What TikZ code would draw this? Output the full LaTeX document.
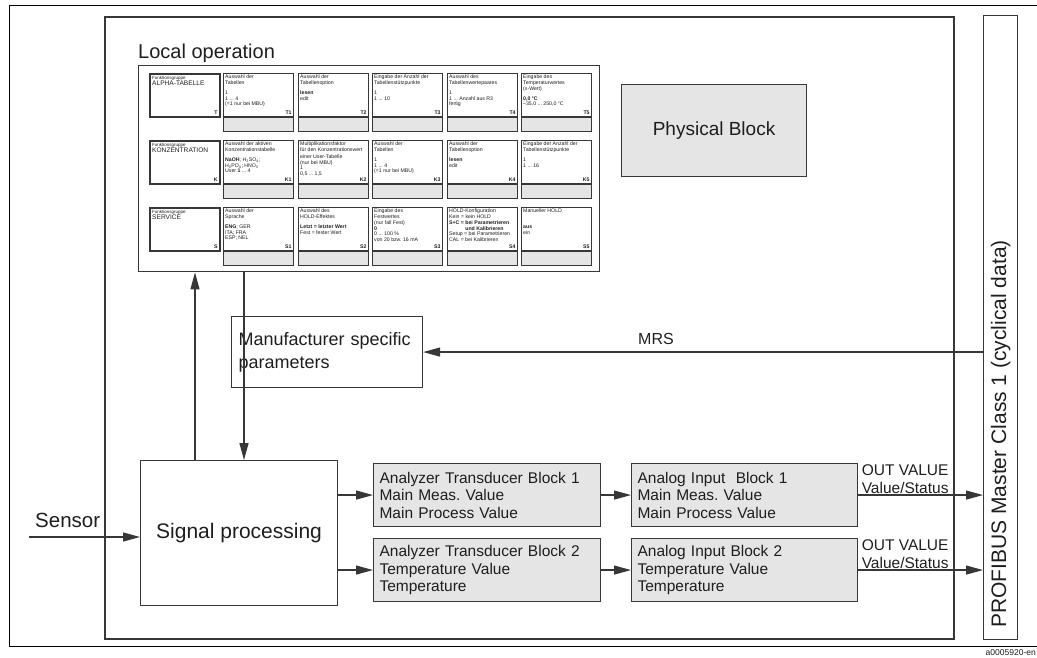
\documentclass[tikz,border=0pt]{standalone}
\usepackage{fontspec}
\setmainfont{Liberation Sans}
\frenchspacing
\usetikzlibrary{arrows.meta,positioning}

\definecolor{blockgray}{RGB}{229,229,229}
\definecolor{linegray}{RGB}{55,55,55}
\definecolor{textdark}{RGB}{30,30,30}

\tikzset{
  arr/.style={draw=linegray, line width=1.2pt, -{Triangle[length=17pt,width=9pt]}},
  block/.style={draw=linegray, line width=1.1pt, fill=blockgray, anchor=north west, inner sep=0pt},
  blocktext/.style={block, minimum width=227pt, minimum height=63pt, text width=215pt, inner xsep=6pt, align=left, font=\fontsize{15.5}{17.5}\selectfont},
  cell/.style={draw=linegray, line width=.8pt, fill=white, anchor=north west, minimum width=70pt, minimum height=43pt, inner sep=0pt},
  cellbar/.style={cell, fill=blockgray, minimum height=14pt},
  group/.style={cell, line width=1.8pt},
  celltext/.style={anchor=north west, inner sep=2pt, align=left, font=\fontsize{5.2}{5.7}\selectfont},
  celltag/.style={anchor=south east, inner sep=2pt, font=\fontsize{5.2}{5.7}\selectfont\bfseries},
  outlabel/.style={anchor=south west, inner sep=1.5pt, align=left, font=\fontsize{15.5}{17.5}\selectfont},
}

% one parameter cell: name, position, text
\newcommand{\paramcell}[3]{%
  \node[cell] (#1) at (#2) {};
  \node[cellbar] (#1bar) at (#1.south west) {};
  \node[celltext] at (#1.north west) {#3};
  \node[celltag] at (#1.south east) {#1};
}

\begin{document}
\begin{tikzpicture}[x=1pt, y=-1pt, every node/.style={text=textdark}]
  \useasboundingbox (0,0) rectangle (1037,657);

  % frames
  \draw[line width=.9pt] (1037,5) -- (9,5) -- (9,646) -- (1037,646);
  \draw[linegray, line width=1.6pt] (105,17) rectangle (954,639);

  \node[draw=linegray, line width=1.2pt, anchor=north west, minimum width=34pt, minimum height=624pt, inner sep=0pt] (prof) at (983,15) {};
  \node[rotate=90, anchor=west, font=\fontsize{21}{25}\selectfont] at ([yshift=9pt]prof.south) {PROFIBUS Master Class 1 (cyclical data)};

  % local operation
  \node[anchor=base west, inner sep=0pt, font=\fontsize{20}{24}\selectfont] (localop) at (138,58) {Local operation};
  \node[draw=linegray, line width=1.4pt, anchor=north west, minimum width=461pt, minimum height=206pt, inner sep=0pt] (panel) at (138,65) {};

  \begin{scope}
    \node[group] (T) at (149,73) {};
    \node[celltext, inner sep=3pt] at (T.north west) {{\fontsize{4.5}{5}\selectfont Funktionsgruppe}\\{\fontsize{6.6}{7.5}\selectfont ALPHA-TABELLE}};
    \node[celltag, inner sep=3pt] at (T.south east) {T};
    \node[group] (K) at (149,140) {};
    \node[celltext, inner sep=3pt] at (K.north west) {{\fontsize{4.5}{5}\selectfont Funktionsgruppe}\\{\fontsize{6.6}{7.5}\selectfont KONZENTRATION}};
    \node[celltag, inner sep=3pt] at (K.south east) {K};
    \node[group] (S) at (149,207) {};
    \node[celltext, inner sep=3pt] at (S.north west) {{\fontsize{4.5}{5}\selectfont Funktionsgruppe}\\{\fontsize{6.6}{7.5}\selectfont SERVICE}};
    \node[celltag, inner sep=3pt] at (S.south east) {S};

    \paramcell{T1}{223,73}{Auswahl der\\Tabellen\\[4pt]1\\1 ... 4\\(=1 nur bei MBU)}
    \paramcell{T2}{298,73}{Auswahl der\\Tabellenoption\\[4pt]\textbf{lesen}\\edit}
    \paramcell{T3}{372,73}{Eingabe der Anzahl der\\Tabellenstützpunkte\\[4pt]1\\1 ... 10}
    \paramcell{T4}{447,73}{Auswahl des\\Tabellenwertepaares\\[4pt]1\\1 ... Anzahl aus R3\\fertig}
    \paramcell{T5}{521,73}{Eingabe des\\Temperaturwertes\\(x-Wert)\\[4pt]\textbf{0,0 °C}\\--35,0 ... 250,0 °C}

    \paramcell{K1}{223,140}{Auswahl der aktiven\\Konzentrationstabelle\\[4pt]\textbf{NaOH}; H\textsubscript{2}SO\textsubscript{4};\\H\textsubscript{3}PO\textsubscript{4}; HNO\textsubscript{3}\\User \textbf{1} ... 4}
    \paramcell{K2}{298,140}{Multiplikationsfaktor\\für den Konzentrationswert\\[1pt]einer User-Tabelle\\(nur bei MBU)\\1\\0,5 ... 1,5}
    \paramcell{K3}{372,140}{Auswahl der\\Tabellen\\[4pt]1\\1 ... 4\\(=1 nur bei MBU)}
    \paramcell{K4}{447,140}{Auswahl der\\Tabellenoption\\[4pt]\textbf{lesen}\\edit}
    \paramcell{K5}{521,140}{Eingabe der Anzahl der\\Tabellenstützpunkte\\[4pt]1\\1 ... 16}

    \paramcell{S1}{223,207}{Auswahl der\\Sprache\\[4pt]\textbf{ENG}; GER\\ITA; FRA\\ESP; NEL}
    \paramcell{S2}{298,207}{Auswahl des\\HOLD-Effektes\\[4pt]\textbf{Letzt = letzter Wert}\\Fest = fester Wert}
    \paramcell{S3}{372,207}{Eingabe des\\Festwertes\\(nur fall Fest)\\\textbf{0}\\0 ... 100 \%\\von 20 bzw. 16 mA}
    \paramcell{S4}{447,207}{HOLD-Konfiguration\\Kein = kein HOLD\\\textbf{S+C = bei Parametrieren}\\\textbf{\phantom{S+C = }und Kalibrieren}\\Setup = bei Parametrieren\\CAL = bei Kalibrieren}
    \paramcell{S5}{521,207}{Manueller HOLD\\[10pt]\textbf{aus}\\ein}
  \end{scope}

  % blocks
  \node[block, minimum width=185pt, minimum height=92pt, font=\fontsize{19}{23}\selectfont] (phys) at (621,84) {Physical Block};
  \node[draw=linegray, line width=1.1pt, anchor=north west, minimum width=191pt, minimum height=71pt, text width=177pt, inner xsep=7pt, align=left, font=\fontsize{18}{23}\selectfont] (manu) at (231,316) {Manufacturer specific\\parameters};
  \node[draw=linegray, line width=1.1pt, anchor=north west, minimum width=197pt, minimum height=145pt, font=\fontsize{21}{25}\selectfont] (sig) at (140,460) {Signal processing};

  \node[blocktext] (atbA) at (373,463) {Analyzer Transducer Block 1\\Main Meas. Value\\Main Process Value};
  \node[blocktext] (atbB) at (373,538) {Analyzer Transducer Block 2\\Temperature Value\\Temperature};
  \node[blocktext, minimum width=226pt, text width=214pt] (aibA) at (631,463) {Analog Input\ \ Block 1\\Main Meas. Value\\Main Process Value};
  \node[blocktext, minimum width=226pt, text width=214pt] (aibB) at (631,538) {Analog Input Block 2\\Temperature Value\\Temperature};

  % connectors
  \coordinate (sensorin) at (29,537);
  \coordinate (upfoot) at (195,460);
  \coordinate (downfoot) at (244,272);
  \node[anchor=base west, inner sep=0pt, font=\fontsize{20.5}{24}\selectfont] at (35,527) {Sensor};
  \draw[arr] (sensorin) -- (sensorin -| sig.west);
  \draw[arr] (upfoot) -- (upfoot |- panel.south);
  \draw[arr] (downfoot) -- (downfoot |- sig.north);

  \draw[arr] (prof.west |- manu) -- (manu.east);
  \node[anchor=base west, inner sep=0pt, font=\fontsize{16}{19}\selectfont] at (638,344) {MRS};

  \draw[arr] (sig.east |- atbA) -- (atbA.west);
  \draw[arr] (sig.east |- atbB) -- (atbB.west);
  \draw[arr] (atbA.east) -- (aibA.west);
  \draw[arr] (atbB.east) -- (aibB.west);
  \draw[arr] (aibA.east) -- (aibA.east -| prof.west);
  \draw[arr] (aibB.east) -- (aibB.east -| prof.west);
  \node[outlabel] at ([xshift=2pt]aibA.east) {OUT VALUE\\Value/Status};
  \node[outlabel] at ([xshift=2pt]aibB.east) {OUT VALUE\\Value/Status};

  \node[anchor=base east, inner sep=0pt, font=\fontsize{8.5}{10}\selectfont] at (1036,655) {a0005920-en};
\end{tikzpicture}
\end{document}
